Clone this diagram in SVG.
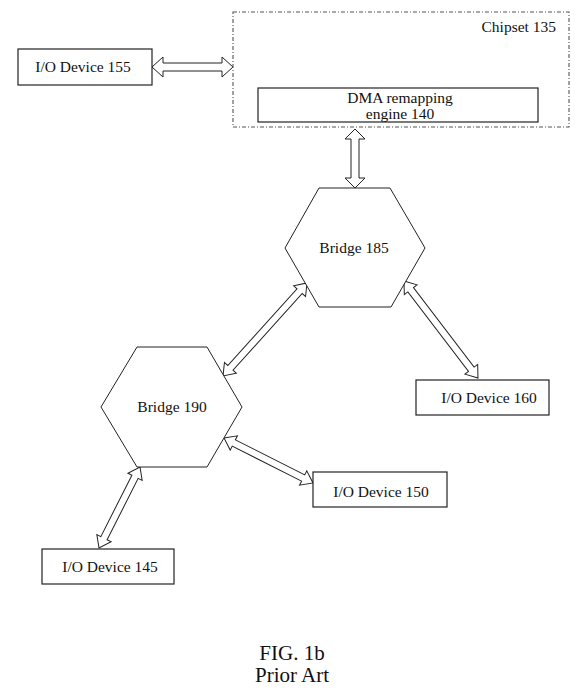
<svg xmlns="http://www.w3.org/2000/svg" width="575" height="695" viewBox="0 0 575 695">
<style>
text{font-family:"Liberation Serif","Times New Roman",serif;fill:#111}
.lbl{font-size:15.5px}
.box{fill:#fff;stroke:#222;stroke-width:1.2}
.hex{fill:#fff;stroke:#222;stroke-width:1}
.arr{fill:#fff;stroke:#222;stroke-width:1}
.dash{fill:none;stroke:#555;stroke-width:1.1;stroke-dasharray:4 2 1 2}
.cap{font-size:21px}
</style>
<rect width="575" height="695" fill="#fff"/>
<g id="connectors">
<polygon class="arr" transform="translate(152,67)" points="0,0 11,-10 11,-4 70,-4 70,-10 81,0 70,10 70,4 11,4 11,10"/>
<polygon class="arr" transform="translate(355,129) rotate(90)" points="0,0 10,-10 10,-4 49,-4 49,-10 59,0 49,10 49,4 10,4 10,10"/>
<polygon class="arr" transform="translate(404,281) rotate(52.67)" points="0,0 11,-8 11,-3.5 111,-3.5 111,-8 122,0 111,8 111,3.5 11,3.5 11,8"/>
<polygon class="arr" transform="translate(307,283) rotate(132.09)" points="0,0 11,-8 11,-3.5 114.3,-3.5 114.3,-8 125.3,0 114.3,8 114.3,3.5 11,3.5 11,8"/>
<polygon class="arr" transform="translate(224,438) rotate(26.82)" points="0,0 11,-8 11,-3.5 88.7,-3.5 88.7,-8 99.7,0 88.7,8 88.7,3.5 11,3.5 11,8"/>
<polygon class="arr" transform="translate(140,467) rotate(116.84)" points="0,0 11,-8 11,-3.5 79.8,-3.5 79.8,-8 90.8,0 79.8,8 79.8,3.5 11,3.5 11,8"/>
</g>
<g id="chipset135">
<rect class="dash" x="233" y="12" width="336" height="115"/>
<text class="lbl" x="556" y="32" text-anchor="end">Chipset 135</text>
</g>
<g id="dma140">
<rect class="box" x="258" y="88" width="280" height="34"/>
<text class="lbl" x="400" y="103" text-anchor="middle">DMA remapping</text>
<text class="lbl" x="400" y="119" text-anchor="middle">engine 140</text>
</g>
<g id="io155">
<rect class="box" x="18" y="49" width="134" height="36"/>
<text class="lbl" x="83" y="72" text-anchor="middle">I/O Device 155</text>
</g>
<g id="bridge185">
<polygon class="hex" points="319,188 390,188 425,248 391,307 319,307 285,248"/>
<text class="lbl" x="354" y="253" text-anchor="middle">Bridge 185</text>
</g>
<g id="io160">
<rect class="box" x="416" y="380" width="133" height="35"/>
<text class="lbl" x="489" y="403" text-anchor="middle">I/O Device 160</text>
</g>
<g id="bridge190">
<polygon class="hex" points="137,347 207,347 242,407 207,467 137,467 101,407"/>
<text class="lbl" x="172" y="412" text-anchor="middle">Bridge 190</text>
</g>
<g id="io150">
<rect class="box" x="313" y="472" width="134" height="35"/>
<text class="lbl" x="381" y="497" text-anchor="middle">I/O Device 150</text>
</g>
<g id="io145">
<rect class="box" x="42" y="549" width="132" height="35"/>
<text class="lbl" x="110" y="572" text-anchor="middle">I/O Device 145</text>
</g>
<g id="caption">
<text class="cap" x="292" y="660" text-anchor="middle">FIG. 1b</text>
<text class="cap" x="292" y="682" text-anchor="middle">Prior Art</text>
</g>
</svg>
